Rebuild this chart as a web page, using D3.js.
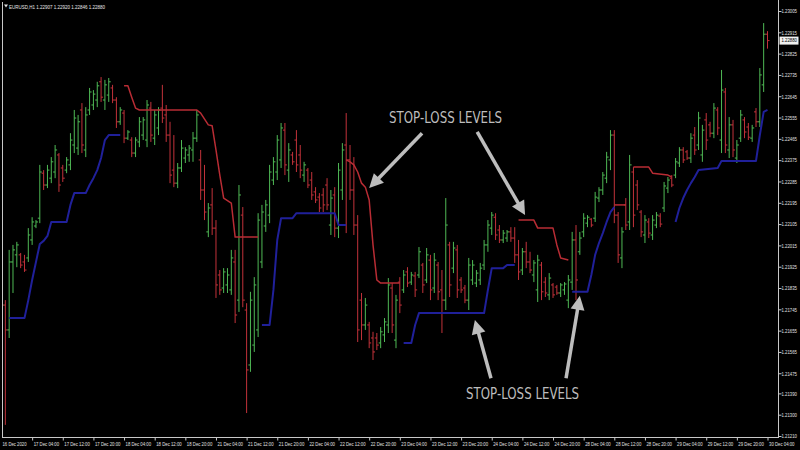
<!DOCTYPE html>
<html><head><meta charset="utf-8">
<script src="https://cdn.jsdelivr.net/npm/d3@7"></script>
<style>html,body{margin:0;padding:0;background:#000;overflow:hidden}</style>
</head><body><svg id="c" width="800" height="450"></svg>
<script>
const symbolInfo = "EURUSD,H1  1.22907 1.22920 1.22846 1.22880";
const timeLabels = ["16 Dec 2020","17 Dec 04:00","17 Dec 12:00","17 Dec 20:00","18 Dec 04:00","18 Dec 12:00","18 Dec 20:00","21 Dec 04:00","21 Dec 12:00","21 Dec 20:00","22 Dec 04:00","22 Dec 12:00","22 Dec 20:00","23 Dec 04:00","23 Dec 12:00","23 Dec 20:00","24 Dec 04:00","24 Dec 12:00","24 Dec 20:00","28 Dec 04:00","28 Dec 12:00","28 Dec 20:00","29 Dec 04:00","29 Dec 12:00","29 Dec 20:00","30 Dec 04:00"];
const timeLabelBars = [0,8,16,24,32,40,48,56,64,72,80,88,96,104,112,120,128,136,144,152,160,168,176,184,192,200];
const priceTicks = [1.23005,1.22915,1.22825,1.22735,1.22645,1.22555,1.22465,1.22375,1.22285,1.22195,1.22105,1.22015,1.21925,1.21835,1.21745,1.21655,1.21565,1.21475,1.21390,1.21300,1.21210];
const lastPrice = 1.22880;

const opens = [1.21692,1.21763,1.21658,1.21945,1.21975,1.21975,1.21945,1.21962,1.22038,1.22097,1.22130,1.22320,1.22270,1.22299,1.22325,1.22397,1.22342,1.22333,1.22355,1.22439,1.22426,1.22587,1.22418,1.22587,1.22608,1.22629,1.22706,1.22629,1.22650,1.22680,1.22629,1.22537,1.22574,1.22468,1.22460,1.22405,1.22452,1.22481,1.22460,1.22595,1.22468,1.22511,1.22595,1.22566,1.22481,1.22333,1.22278,1.22342,1.22384,1.22397,1.22418,1.22468,1.22376,1.22249,1.22072,1.22186,1.22088,1.21890,1.21835,1.21848,1.21827,1.21945,1.21784,1.22143,1.21742,1.21510,1.21594,1.21658,1.21945,1.22097,1.22143,1.22291,1.22325,1.22376,1.22502,1.22333,1.22397,1.22460,1.22397,1.22312,1.22333,1.22291,1.22241,1.22219,1.22228,1.22270,1.22101,1.22228,1.22088,1.22249,1.22439,1.22376,1.22249,1.22101,1.21784,1.21679,1.21679,1.21624,1.21624,1.21603,1.21637,1.21679,1.21835,1.21615,1.21860,1.21827,1.21903,1.21860,1.21886,1.21890,1.21932,1.21869,1.21953,1.21835,1.21932,1.21827,1.21784,1.22017,1.21919,1.21996,1.21869,1.21835,1.21784,1.21869,1.21856,1.21869,1.21932,1.22017,1.22088,1.22134,1.22080,1.22038,1.22046,1.22072,1.22046,1.21975,1.21911,1.21988,1.21945,1.21890,1.21827,1.21932,1.21860,1.21806,1.21848,1.21839,1.21814,1.21827,1.21784,1.21860,1.22038,1.21988,1.22072,1.22109,1.22126,1.22130,1.22215,1.22249,1.22299,1.22376,1.22481,1.22143,1.21962,1.22186,1.22114,1.22325,1.22270,1.22156,1.22059,1.22114,1.22059,1.22101,1.22139,1.22173,1.22257,1.22299,1.22312,1.22363,1.22418,1.22410,1.22384,1.22481,1.22439,1.22397,1.22545,1.22524,1.22489,1.22587,1.22460,1.22663,1.22418,1.22524,1.22384,1.22468,1.22545,1.22515,1.22468,1.22579,1.22537,1.22693,1.22907];
const highs = [1.21784,1.21784,1.21996,1.22017,1.22030,1.21983,1.21975,1.22088,1.22134,1.22122,1.22355,1.22333,1.22355,1.22388,1.22439,1.22405,1.22355,1.22388,1.22489,1.22587,1.22566,1.22616,1.22599,1.22680,1.22671,1.22706,1.22726,1.22714,1.22722,1.22693,1.22641,1.22599,1.22587,1.22502,1.22472,1.22472,1.22557,1.22557,1.22629,1.22621,1.22587,1.22599,1.22693,1.22608,1.22537,1.22481,1.22363,1.22460,1.22430,1.22439,1.22494,1.22587,1.22418,1.22355,1.22194,1.22257,1.22122,1.21911,1.21919,1.21919,1.21996,1.21996,1.22270,1.22177,1.21771,1.21819,1.21881,1.22151,1.22186,1.22207,1.22355,1.22388,1.22481,1.22532,1.22532,1.22447,1.22410,1.22502,1.22439,1.22368,1.22342,1.22325,1.22261,1.22236,1.22257,1.22299,1.22249,1.22261,1.22363,1.22447,1.22574,1.22439,1.22388,1.22143,1.21814,1.21793,1.21692,1.21650,1.21645,1.21670,1.21708,1.21877,1.21856,1.21806,1.21881,1.21911,1.21923,1.21903,1.21903,1.22008,1.21941,1.22004,1.21975,1.21983,1.21945,1.21911,1.22215,1.22030,1.22030,1.22017,1.21881,1.21848,1.21962,1.21953,1.21911,1.21941,1.22038,1.22122,1.22156,1.22151,1.22101,1.22080,1.22080,1.22092,1.22092,1.22038,1.22004,1.22030,1.21988,1.21953,1.21975,1.21945,1.21881,1.21898,1.21856,1.21848,1.21856,1.21860,1.21890,1.22072,1.22101,1.22072,1.22151,1.22143,1.22130,1.22241,1.22261,1.22325,1.22410,1.22502,1.22502,1.22156,1.22092,1.22215,1.22397,1.22346,1.22291,1.22164,1.22143,1.22130,1.22143,1.22156,1.22151,1.22283,1.22304,1.22312,1.22384,1.22430,1.22430,1.22418,1.22489,1.22515,1.22579,1.22524,1.22574,1.22537,1.22616,1.22599,1.22756,1.22680,1.22557,1.22545,1.22460,1.22587,1.22557,1.22532,1.22524,1.22595,1.22764,1.22954,1.22920];
const lows = [1.21670,1.21257,1.21624,1.21814,1.21923,1.21919,1.21903,1.21945,1.22017,1.22088,1.22109,1.22249,1.22257,1.22278,1.22299,1.22241,1.22283,1.22320,1.22333,1.22405,1.22397,1.22405,1.22388,1.22566,1.22587,1.22599,1.22621,1.22587,1.22621,1.22616,1.22511,1.22524,1.22447,1.22460,1.22388,1.22388,1.22430,1.22460,1.22430,1.22452,1.22439,1.22481,1.22532,1.22452,1.22278,1.22261,1.22257,1.22325,1.22363,1.22368,1.22368,1.22452,1.22207,1.22122,1.22050,1.22059,1.21793,1.21806,1.21814,1.21814,1.21806,1.21687,1.21734,1.21754,1.21307,1.21481,1.21565,1.21628,1.21919,1.22072,1.22109,1.22270,1.22291,1.22342,1.22312,1.22283,1.22355,1.22325,1.22299,1.22283,1.22257,1.22207,1.22194,1.22156,1.22156,1.22164,1.22059,1.22050,1.22046,1.22207,1.22067,1.22207,1.22059,1.21607,1.21615,1.21658,1.21581,1.21531,1.21573,1.21581,1.21607,1.21645,1.21645,1.21581,1.21729,1.21814,1.21839,1.21848,1.21797,1.21877,1.21814,1.21856,1.21784,1.21814,1.21784,1.21645,1.21742,1.21797,1.21898,1.21793,1.21814,1.21771,1.21742,1.21848,1.21839,1.21848,1.21911,1.21988,1.22059,1.22038,1.22025,1.22025,1.22030,1.22030,1.21941,1.21869,1.21890,1.21919,1.21898,1.21860,1.21776,1.21784,1.21797,1.21784,1.21793,1.21806,1.21797,1.21806,1.21750,1.21827,1.21784,1.21975,1.22050,1.22092,1.22092,1.22114,1.22198,1.22228,1.22278,1.22333,1.22109,1.21941,1.21919,1.22080,1.22080,1.22092,1.22164,1.22050,1.22025,1.22046,1.22038,1.22088,1.22092,1.22156,1.22236,1.22261,1.22299,1.22346,1.22363,1.22376,1.22363,1.22397,1.22418,1.22368,1.22418,1.22472,1.22468,1.22481,1.22405,1.22405,1.22384,1.22388,1.22363,1.22452,1.22468,1.22460,1.22452,1.22515,1.22515,1.22663,1.22846];
const closes = [1.21763,1.21658,1.21945,1.21996,1.22017,1.21932,1.21911,1.22059,1.22114,1.22114,1.22325,1.22270,1.22333,1.22368,1.22418,1.22270,1.22299,1.22376,1.22460,1.22553,1.22537,1.22439,1.22566,1.22663,1.22654,1.22689,1.22641,1.22693,1.22706,1.22629,1.22537,1.22587,1.22468,1.22494,1.22405,1.22460,1.22537,1.22545,1.22608,1.22481,1.22566,1.22587,1.22553,1.22481,1.22312,1.22278,1.22342,1.22426,1.22418,1.22426,1.22468,1.22566,1.22249,1.22156,1.22173,1.22088,1.21848,1.21827,1.21903,1.21890,1.21962,1.21721,1.22228,1.21784,1.21489,1.21784,1.21848,1.22122,1.22156,1.22186,1.22325,1.22368,1.22460,1.22511,1.22355,1.22418,1.22368,1.22355,1.22333,1.22355,1.22270,1.22228,1.22207,1.22173,1.22186,1.22186,1.22215,1.22088,1.22333,1.22418,1.22376,1.22249,1.22101,1.21658,1.21679,1.21763,1.21603,1.21565,1.21594,1.21650,1.21692,1.21848,1.21679,1.21784,1.21763,1.21890,1.21856,1.21890,1.21827,1.21988,1.21848,1.21975,1.21827,1.21953,1.21819,1.21784,1.22101,1.21848,1.22004,1.21827,1.21827,1.21784,1.21932,1.21932,1.21898,1.21919,1.22017,1.22101,1.22143,1.22059,1.22038,1.22067,1.22072,1.22046,1.21975,1.21903,1.21988,1.21945,1.21911,1.21941,1.21953,1.21819,1.21814,1.21877,1.21806,1.21814,1.21848,1.21852,1.21869,1.22038,1.21869,1.22046,1.22130,1.22134,1.22101,1.22219,1.22249,1.22312,1.22388,1.22481,1.22143,1.21975,1.22072,1.22101,1.22355,1.22143,1.22186,1.22072,1.22122,1.22067,1.22122,1.22143,1.22105,1.22266,1.22291,1.22270,1.22368,1.22418,1.22376,1.22384,1.22468,1.22418,1.22553,1.22502,1.22460,1.22489,1.22595,1.22511,1.22671,1.22439,1.22524,1.22418,1.22439,1.22566,1.22494,1.22472,1.22511,1.22537,1.22735,1.22907,1.22880];

// trailing stop levels: [bar index, price]
const buyStopSegments = [
  [[2,1.21708],[6,1.21708],[7,1.21784],[8,1.21869],[9,1.21945],[10,1.22021],[11,1.22034],[12,1.22055],[13,1.22114],[17,1.22114],[18,1.22186],[19,1.22236],[22,1.22236],[23,1.22270],[24,1.22299],[25,1.22333],[26,1.22384],[27,1.22460],[28,1.22481],[31,1.22481]],
  [[68,1.21679],[70,1.21679],[71,1.21827],[72,1.22038],[73,1.22130],[76,1.22130],[77,1.22151],[87,1.22151],[88,1.22101],[90,1.22101]],
  [[105,1.21603],[107,1.21603],[108,1.21679],[109,1.21729],[126,1.21729],[127,1.21827],[128,1.21919],[131,1.21919],[132,1.21932],[134,1.21932]],
  [[149,1.21819],[153,1.21819],[154,1.21890],[155,1.21975],[156,1.22025],[157,1.22067],[158,1.22114],[159,1.22156],[160,1.22177]],
  [[176,1.22114],[177,1.22173],[178,1.22215],[179,1.22249],[180,1.22278],[181,1.22304],[182,1.22333],[187,1.22342],[188,1.22372],[197,1.22372],[198,1.22481],[199,1.22579],[200,1.22587]]
];
const sellStopSegments = [
  [[32,1.22689],[33,1.22689],[34,1.22641],[35,1.22595],[36,1.22587],[51,1.22587],[52,1.22574],[54,1.22524],[55,1.22520],[56,1.22418],[57,1.22312],[58,1.22215],[60,1.22194],[61,1.22050],[67,1.22050]],
  [[90,1.22376],[91,1.22368],[92,1.22355],[93,1.22325],[94,1.22278],[95,1.22261],[96,1.22207],[97,1.22017],[98,1.21869],[99,1.21856],[104,1.21856]],
  [[135,1.22122],[139,1.22122],[140,1.22088],[144,1.22088],[145,1.22017],[146,1.21962],[148,1.21953]],
  [[160,1.22186],[163,1.22186]],
  [[165,1.22346],[169,1.22346],[170,1.22320],[174,1.22312],[175,1.22304]]
];
const labelText = "STOP-LOSS LEVELS";
const labelAnchors = [[101.2,1.22530],[121.3,1.21366]];
const arrows = [
  [[109.8,1.22489],[96.0,1.22257]],
  [[124.2,1.22494],[136.7,1.22143]],
  [[127.8,1.21454],[123.6,1.21700]],
  [[147.4,1.21454],[151.0,1.21802]]
];

const svg = d3.select("#c");
svg.append("rect").attr("width",800).attr("height",450).attr("fill","#000");

const x = d3.scaleLinear().domain([0,200]).range([1.5,767.5]);
const y = d3.scaleLinear().domain([1.21210,1.23005]).range([436,11]);
const L=2, R=778, B=437;
const smallFont = "Liberation Sans Narrow, Liberation Sans, sans-serif";

svg.append("defs").append("clipPath").attr("id","plot")
  .append("rect").attr("x",L+0.5).attr("y",0).attr("width",R-L-1).attr("height",B);

const plot = svg.append("g").attr("clip-path","url(#plot)");

const up = "#4fb955", dn = "#c2323a";
const idx = d3.range(opens.length);
const g = plot.append("g").attr("stroke-width",1);
idx.forEach(i=>{
  const col = closes[i] >= opens[i] ? up : dn;
  const xi = x(i);
  g.append("line").attr("x1",xi).attr("x2",xi).attr("y1",y(highs[i])).attr("y2",y(lows[i])).attr("stroke",col);
  g.append("line").attr("x1",xi-2).attr("x2",xi).attr("y1",y(opens[i])).attr("y2",y(opens[i])).attr("stroke",col);
  g.append("line").attr("x1",xi).attr("x2",xi+2).attr("y1",y(closes[i])).attr("y2",y(closes[i])).attr("stroke",col);
});

const line = d3.line().x(d=>x(d[0])).y(d=>y(d[1]));
plot.selectAll(".buy").data(buyStopSegments).enter().append("path")
  .attr("d",line).attr("fill","none").attr("stroke","#20209a").attr("stroke-width",2).attr("stroke-linejoin","round");
plot.selectAll(".sell").data(sellStopSegments).enter().append("path")
  .attr("d",line).attr("fill","none").attr("stroke","#b82c34").attr("stroke-width",1.5).attr("stroke-linejoin","round");

// frame
const axCol = "#c8c8c8";
svg.append("line").attr("x1",L+0.5).attr("x2",L+0.5).attr("y1",2).attr("y2",B).attr("stroke",axCol);
svg.append("line").attr("x1",R+0.5).attr("x2",R+0.5).attr("y1",0).attr("y2",B+0.5).attr("stroke",axCol);
svg.append("line").attr("x1",L).attr("x2",R+1).attr("y1",B+0.5).attr("y2",B+0.5).attr("stroke",axCol);

// price axis
const yAxis = d3.axisRight(y).tickValues(priceTicks).tickSize(3).tickFormat(d3.format(".5f"));
const ya = svg.append("g").attr("transform",`translate(${R+0.5},0)`).call(yAxis);
ya.select(".domain").remove();
ya.selectAll(".tick line").attr("stroke",axCol);
ya.selectAll(".tick text").attr("fill","#e0e0e0").attr("text-anchor","start").attr("x",3).attr("dy","0.35em")
  .style("font-family",smallFont).style("font-size","5.2px")
  .attr("textLength",15.5).attr("lengthAdjust","spacingAndGlyphs");

// current price box
const cp = svg.append("g").attr("transform",`translate(${R+1},${y(lastPrice)})`);
cp.append("rect").attr("x",0.5).attr("y",-4).attr("width",19).attr("height",8).attr("fill","#f0f0f0");
cp.append("text").attr("x",2.5).attr("y",0).attr("dy","0.35em").attr("fill","#000")
  .style("font-family",smallFont).style("font-size","5.2px")
  .attr("textLength",15.5).attr("lengthAdjust","spacingAndGlyphs").text(d3.format(".5f")(lastPrice));

// time axis
const xAxis = d3.axisBottom(x).tickValues(timeLabelBars).tickSize(3).tickFormat((d,i)=>timeLabels[i]);
const xa = svg.append("g").attr("transform",`translate(0,${B+0.5})`).call(xAxis);
xa.select(".domain").remove();
xa.selectAll(".tick line").attr("stroke",axCol).attr("opacity",(d,i)=>i===0?0:1);
xa.selectAll(".tick text").attr("fill","#e0e0e0").attr("text-anchor","start").attr("x",(d,i)=>i===0?0.5:1).attr("y",5).attr("dy","0.71em")
  .style("font-family",smallFont).style("font-size","5.2px")
  .attr("textLength",(d,i)=>i===0?24:25.5).attr("lengthAdjust","spacingAndGlyphs");

// header
svg.append("path").attr("d","M4,4.5 L8,4.5 L6,7.5 Z").attr("fill","#e0e0e0");
svg.append("text").attr("x",9).attr("y",8.5).attr("fill","#e8e8e8")
  .style("font-family",smallFont).style("font-size","6.2px")
  .attr("textLength",96).attr("lengthAdjust","spacingAndGlyphs").text(symbolInfo);

// annotations
const annCol = "#bdbdbd";
svg.selectAll(".ann").data(labelAnchors).enter().append("text")
  .attr("x",d=>x(d[0])).attr("y",d=>y(d[1])).attr("fill",annCol)
  .style("font-family","DejaVu Sans Condensed, DejaVu Sans, sans-serif").style("font-size","15px")
  .attr("textLength",113).attr("lengthAdjust","spacingAndGlyphs").text(labelText);

arrows.forEach(([t,h])=>{
  const x1=x(t[0]), y1=y(t[1]), x2=x(h[0]), y2=y(h[1]);
  const dx=x2-x1, dy=y2-y1, len=Math.hypot(dx,dy), ux=dx/len, uy=dy/len;
  const hl=14, hw=7;
  const bx=x2-ux*hl, by=y2-uy*hl;
  svg.append("line").attr("x1",x1).attr("y1",y1).attr("x2",bx+ux*2).attr("y2",by+uy*2)
    .attr("stroke",annCol).attr("stroke-width",3.5);
  svg.append("path").attr("d",`M${x2},${y2} L${bx-uy*hw},${by+ux*hw} L${bx+uy*hw},${by-ux*hw} Z`).attr("fill",annCol);
});
</script></body></html>
